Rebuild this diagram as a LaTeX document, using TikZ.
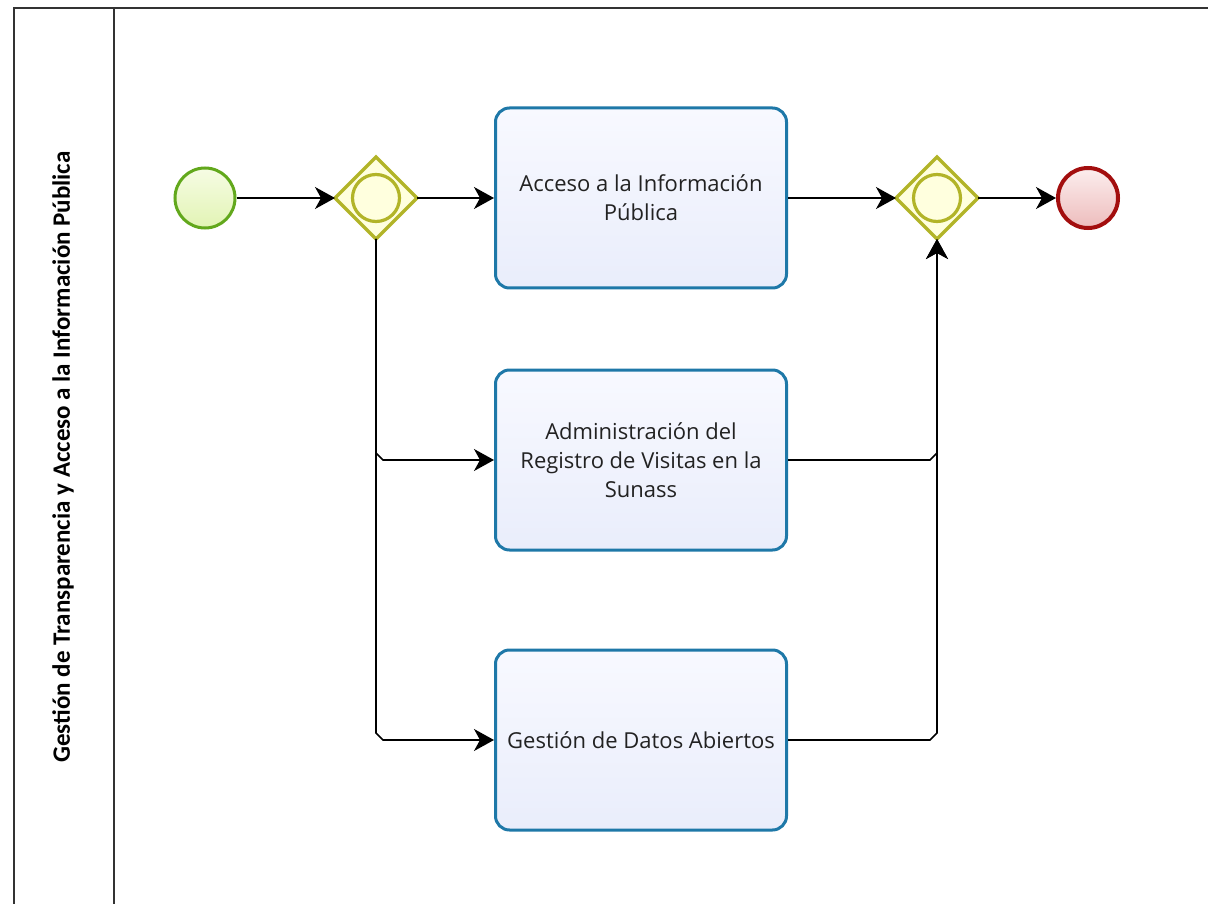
\documentclass[tikz,border=0pt]{standalone}
\usepackage{fontspec}
\setmainfont{Open Sans}
\newfontfamily\lanefont{Carlito}
\usetikzlibrary{arrows.meta,calc}
\definecolor{poolline}{HTML}{333333}
\definecolor{startline}{HTML}{62A81C}
\definecolor{startfillA}{HTML}{F6FCE4}
\definecolor{startfillB}{HTML}{E2F4B4}
\definecolor{gwline}{HTML}{B2B428}
\definecolor{gwfill}{HTML}{FFFFDE}
\definecolor{endline}{HTML}{A30E0E}
\definecolor{endfillA}{HTML}{FCEEEE}
\definecolor{endfillB}{HTML}{EDBCBC}
\definecolor{taskline}{HTML}{1E78A8}
\definecolor{taskfillA}{HTML}{F8F9FF}
\definecolor{taskfillB}{HTML}{E9EDFB}
\definecolor{tasktext}{HTML}{222222}
\tikzset{
  poolstroke/.style={draw=poolline, line width=2pt},
  startev/.style={circle, draw=startline, line width=3pt, minimum size=60pt, inner sep=0pt, top color=startfillA, bottom color=startfillB},
  endev/.style={circle, draw=endline, line width=4pt, minimum size=60pt, inner sep=0pt, top color=endfillA, bottom color=endfillB},
  gwshape/.style={draw=gwline, fill=gwfill, line width=3.2pt},
  gwring/.style={circle, draw=gwline, line width=3.2pt, minimum size=47pt, inner sep=0pt},
  taskbox/.style={rectangle, rounded corners=14pt, draw=taskline, line width=3pt, top color=taskfillA, bottom color=taskfillB, minimum width=291pt, minimum height=180pt, align=center, text=tasktext, font=\fontsize{22}{29}\selectfont},
  flow/.style={draw=black, line width=1.6pt, -{Stealth[length=20pt,width=22pt,inset=6pt]}},
}
\begin{document}
\begin{tikzpicture}[x=1pt,y=-1pt]
\useasboundingbox (0,0) rectangle (1208,904);
% pool
\draw[poolstroke] (14,906) -- (14,8) -- (1208,8);
\draw[poolstroke] (114,8) -- (114,906);
\node[rotate=90, font=\lanefont\bfseries\fontsize{25}{28}\selectfont] (lane) at (63,457) {Gestión de Transparencia y Acceso a la Información Pública};
% events
\node[startev] (start) at (205,198) {};
\node[endev] (end) at (1088,198) {};
% gateways
\coordinate (g1) at (376,198);
\coordinate (g2) at (937,198);
\draw[gwshape] ($(g1)+(-41,0)$) -- ($(g1)+(0,-41)$) -- ($(g1)+(41,0)$) -- ($(g1)+(0,41)$) -- cycle;
\draw[gwshape] ($(g2)+(-41,0)$) -- ($(g2)+(0,-41)$) -- ($(g2)+(41,0)$) -- ($(g2)+(0,41)$) -- cycle;
\node[gwring] (g1r) at (g1) {};
\node[gwring] (g2r) at (g2) {};
\coordinate (g1w) at ($(g1)+(-41,0)$);
\coordinate (g1e) at ($(g1)+(41,0)$);
\coordinate (g1s) at ($(g1)+(0,41)$);
\coordinate (g2w) at ($(g2)+(-41,0)$);
\coordinate (g2e) at ($(g2)+(41,0)$);
\coordinate (g2s) at ($(g2)+(0,41)$);
% tasks
\node[taskbox] (t1) at (641,198) {Acceso a la Información\\Pública};
\node[taskbox] (t2) at (641,460) {Administración del\\Registro de Visitas en la\\Sunass};
\node[taskbox] (t3) at (641,740) {Gestión de Datos Abiertos};
% flows
\draw[flow] (start.east) -- (g1w);
\draw[flow] (g1e) -- (t1.west);
\draw[flow] (t1.east) -- (g2w);
\draw[flow] (g2e) -- (end.west);
\draw[flow] (g1s) -- ($(g1s |- t2.west)+(0,-7)$) -- ($(g1s |- t2.west)+(7,0)$) -- (t2.west);
\draw[flow] (g1s) -- ($(g1s |- t3.west)+(0,-7)$) -- ($(g1s |- t3.west)+(7,0)$) -- (t3.west);
\draw[flow] (t2.east) -- ($(g2s |- t2.east)+(-7,0)$) -- ($(g2s |- t2.east)+(0,-7)$) -- (g2s);
\draw[flow] (t3.east) -- ($(g2s |- t3.east)+(-7,0)$) -- ($(g2s |- t3.east)+(0,-7)$) -- (g2s);
\end{tikzpicture}
\end{document}
